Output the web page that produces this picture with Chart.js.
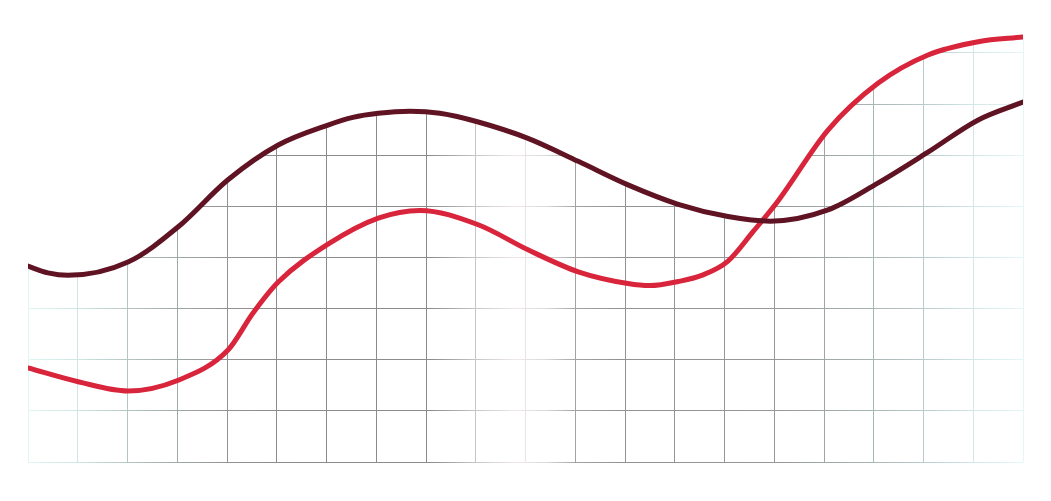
<!DOCTYPE html>
<html>
<head>
<meta charset="utf-8">
<script src="https://cdn.jsdelivr.net/npm/chart.js@4.4.1/dist/chart.umd.min.js"></script>
<style>
    html, body { margin: 0; padding: 0; background: #fff; }
    #wrap { width: 1051px; height: 501px; }
</style>
</head>
<body>
<div id="wrap"><canvas id="myChart" width="1051" height="501"></canvas></div>
<script>
// data (x in grid columns 0..20, y in grid rows 0..8)
var darkX = [0, 0.40, 0.80, 2.01, 3.02, 4.02, 5.03, 6.03, 6.53, 7.04, 7.68, 8.28, 9.05, 10.05, 11.06, 12.06, 13.07, 14.07, 14.92, 16.08, 17.09, 18.09, 19.10, 20];
var darkY = [3.83, 3.70, 3.65, 3.91, 4.60, 5.52, 6.20, 6.59, 6.74, 6.82, 6.86, 6.82, 6.65, 6.33, 5.88, 5.42, 5.04, 4.80, 4.71, 4.93, 5.46, 6.06, 6.69, 7.04];
var redX = [0, 1.01, 2.01, 3.02, 4.02, 4.52, 5.03, 6.03, 7.04, 7.88, 9.05, 10.05, 11.06, 12.06, 12.50, 13.07, 13.57, 14.07, 14.57, 15.08, 16.08, 17.09, 18.09, 19.10, 20];
var redY = [1.84, 1.57, 1.39, 1.60, 2.19, 2.91, 3.52, 4.26, 4.77, 4.92, 4.64, 4.15, 3.72, 3.49, 3.45, 3.53, 3.66, 3.93, 4.50, 5.11, 6.49, 7.41, 7.96, 8.22, 8.31];
var yTicks = [0, 1, 2, 3, 4, 5, 6, 7, 8];

function toPoints(xs, ys) {
    return xs.map(function (x, i) { return { x: x, y: ys[i] }; });
}

// grid colour along x: cyan at the edges, grey in the middle, pale band near the centre
var gridStops = [
    [0, "#e8fbfa"], [28, "#e0f6f4"], [78, "#cfe6e3"], [128, "#b4c6c4"], [178, "#9fa8a7"],
    [228, "#929292"], [300, "#8b8b8b"], [430, "#8b8b8b"], [476, "#c6c6c6"], [515, "#f0e8e8"],
    [545, "#dadada"], [576, "#a2a2a2"], [620, "#929292"], [780, "#969898"], [830, "#a0a8a8"],
    [873, "#a9b6b6"], [923, "#b9cbca"], [973, "#d2e7e6"], [1023, "#e4f7f6"], [1051, "#eefcfb"]
];
var gridGrad = null;
function gridColor(c) {
    var chart = c.chart;
    if (!gridGrad) {
        gridGrad = chart.ctx.createLinearGradient(0, 0, chart.width, 0);
        gridStops.forEach(function (s) {
            gridGrad.addColorStop(s[0] / chart.width, s[1]);
        });
    }
    return gridGrad;
}

// hide the grid above both curves
var clipGrid = {
    id: "clipGrid",
    beforeDatasetsDraw: function (chart) {
        var ctx = chart.ctx;
        var a = chart.chartArea;
        ctx.save();
        for (var i = 0; i < 2; i++) {
            var line = chart.getDatasetMeta(i).dataset;
            line.updateControlPoints(a, "x");
            var pts = line.points;
            ctx.beginPath();
            line.path(ctx);
            ctx.lineTo(a.right + 6, pts[pts.length - 1].y);
            ctx.lineTo(a.right + 6, 0);
            ctx.lineTo(a.left - 6, 0);
            ctx.lineTo(a.left - 6, pts[0].y);
            ctx.closePath();
            ctx.clip();
        }
        ctx.fillStyle = "#fff";
        ctx.fillRect(0, 0, chart.width, chart.height);
        ctx.restore();
    }
};

new Chart("myChart", {
    type: "line",
    data: {
        datasets: [{
            data: toPoints(darkX, darkY),
            borderColor: "#601323",
            borderWidth: 5,
            borderCapStyle: "round",
            borderJoinStyle: "round",
            pointRadius: 0,
            cubicInterpolationMode: "monotone",
            fill: false
        }, {
            data: toPoints(redX, redY),
            borderColor: "#d9253c",
            borderWidth: 5,
            borderCapStyle: "round",
            borderJoinStyle: "round",
            pointRadius: 0,
            cubicInterpolationMode: "monotone",
            fill: false
        }]
    },
    options: {
        responsive: false,
        animation: false,
        layout: { padding: { left: 28, right: 28, top: 32.5, bottom: 39 } },
        plugins: { legend: { display: false }, tooltip: { enabled: false } },
        scales: {
            x: {
                type: "linear",
                min: 0,
                max: 20,
                border: { display: false },
                ticks: { display: false, stepSize: 1 },
                grid: { color: gridColor, lineWidth: 1, drawTicks: false }
            },
            y: {
                min: 0,
                max: 8.4,
                border: { display: false },
                ticks: { display: false, stepSize: 1 },
                afterBuildTicks: function (scale) {
                    scale.ticks = yTicks.map(function (v) { return { value: v }; });
                },
                grid: { color: gridColor, lineWidth: 1, drawTicks: false }
            }
        }
    },
    plugins: [clipGrid]
});
</script>
</body>
</html>
